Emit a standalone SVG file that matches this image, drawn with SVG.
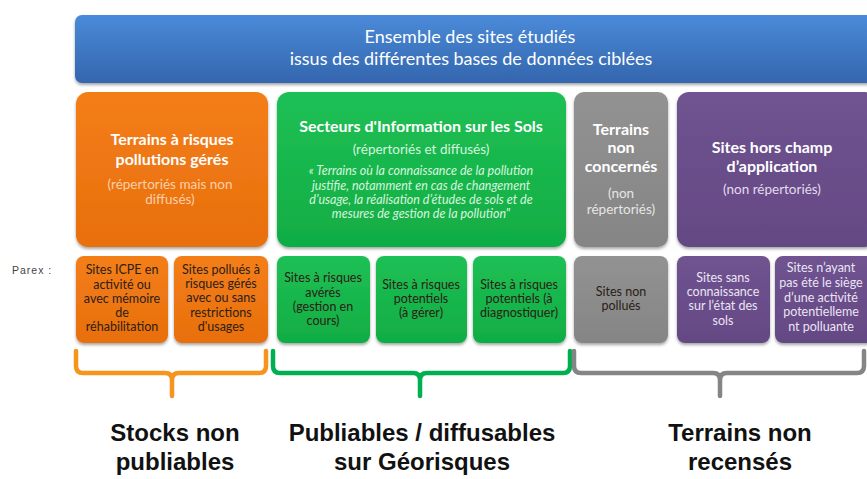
<svg xmlns="http://www.w3.org/2000/svg" width="867" height="479" viewBox="0 0 867 479">
<defs>
<linearGradient id="gBlue" x1="0" y1="0" x2="0" y2="1"><stop offset="0" stop-color="#4a8ad8"/><stop offset="1" stop-color="#3466ae"/></linearGradient>
<linearGradient id="gOr" x1="0" y1="0" x2="0" y2="1"><stop offset="0" stop-color="#f47e16"/><stop offset="1" stop-color="#e86f0e"/></linearGradient>
<linearGradient id="gGr" x1="0" y1="0" x2="0" y2="1"><stop offset="0" stop-color="#1fc055"/><stop offset="1" stop-color="#10ad44"/></linearGradient>
<linearGradient id="gGy" x1="0" y1="0" x2="0" y2="1"><stop offset="0" stop-color="#929292"/><stop offset="1" stop-color="#858585"/></linearGradient>
<linearGradient id="gPu" x1="0" y1="0" x2="0" y2="1"><stop offset="0" stop-color="#6f5390"/><stop offset="1" stop-color="#644984"/></linearGradient>
<filter id="sh" x="-10%" y="-10%" width="120%" height="130%"><feDropShadow dx="0" dy="2" stdDeviation="1.5" flood-color="#000" flood-opacity="0.35"/></filter>
</defs>
<style>
.t{font-family:Lato,"Open Sans","Liberation Sans",sans-serif;text-anchor:middle}
.hd{font-size:16px;font-weight:bold;fill:#fff}
.sub{font-size:13.5px}
.it{font-size:12.5px;font-style:italic;fill:#d6f5de}
.sm{font-size:12.5px;fill:#2b2016}
.smp{font-size:12.5px;fill:#ece4f4}
.big{font-family:"Liberation Sans",Arial,sans-serif;font-size:24px;font-weight:bold;fill:#111;text-anchor:middle}
.br{fill:none;stroke-width:4.5;stroke-linecap:round;stroke-linejoin:round}
</style>
<rect width="867" height="479" fill="#fff"/>
<g id="top">
<rect x="75" y="15" width="800" height="68" rx="7" fill="url(#gBlue)" filter="url(#sh)"/>
<text class="t" x="470" y="43" font-size="18" fill="#fff">Ensemble des sites étudiés</text>
<text class="t" x="471" y="65" font-size="18" fill="#fff">issus des différentes bases de données ciblées</text>
</g>
<g id="orange-main">
<rect x="76" y="92" width="192" height="155" rx="12" fill="url(#gOr)" filter="url(#sh)"/>
<text class="t hd" x="172" y="145">Terrains à risques</text>
<text class="t hd" x="172" y="165">pollutions gérés</text>
<text class="t sub" x="170" y="189" fill="#fbcfae">(répertoriés mais non</text>
<text class="t sub" x="170" y="204" fill="#fbcfae">diffusés)</text>
</g>
<g id="green-main">
<rect x="277" y="92" width="289" height="155" rx="12" fill="url(#gGr)" filter="url(#sh)"/>
<text class="t hd" x="421" y="132">Secteurs d'Information sur les Sols</text>
<text class="t sub" x="421" y="154" fill="#d6f5de">(répertoriés et diffusés)</text>
<text class="t it" x="421" y="175">« Terrains où la connaissance de la pollution</text>
<text class="t it" x="421" y="190">justifie, notamment en cas de changement</text>
<text class="t it" x="421" y="204">d’usage, la réalisation d’études de sols et de</text>
<text class="t it" x="421" y="218">mesures de gestion de la pollution"</text>
</g>
<g id="gray-main">
<rect x="574" y="92" width="94" height="155" rx="10" fill="url(#gGy)" filter="url(#sh)"/>
<text class="t hd" x="621" y="135">Terrains</text>
<text class="t hd" x="621" y="153">non</text>
<text class="t hd" x="621" y="172">concernés</text>
<text class="t sub" x="621" y="198" fill="#e6e6e6">(non</text>
<text class="t sub" x="621" y="214" fill="#e6e6e6">répertoriés)</text>
</g>
<g id="purple-main">
<rect x="677" y="92" width="200" height="155" rx="12" fill="url(#gPu)" filter="url(#sh)"/>
<text class="t hd" x="772" y="153">Sites hors champ</text>
<text class="t hd" x="772" y="172">d’application</text>
<text class="t sub" x="772" y="194" fill="#e4dcee">(non répertoriés)</text>
</g>
<text x="12" y="274" font-family="'Liberation Sans',Arial,sans-serif" font-size="10.5" letter-spacing="1" fill="#444">Parex :</text>
<g id="o1">
<rect x="76" y="256" width="92" height="87" rx="8" fill="url(#gOr)" filter="url(#sh)"/>
<text class="t sm" x="122" y="274">Sites ICPE en</text>
<text class="t sm" x="122" y="289">activité ou</text>
<text class="t sm" x="122" y="303">avec mémoire</text>
<text class="t sm" x="122" y="317">de</text>
<text class="t sm" x="122" y="331">réhabilitation</text>
</g>
<g id="o2">
<rect x="174" y="256" width="94" height="87" rx="8" fill="url(#gOr)" filter="url(#sh)"/>
<text class="t sm" x="221" y="274">Sites pollués à</text>
<text class="t sm" x="221" y="288">risques gérés</text>
<text class="t sm" x="221" y="302">avec ou sans</text>
<text class="t sm" x="221" y="317">restrictions</text>
<text class="t sm" x="221" y="331">d'usages</text>
</g>
<g id="g1">
<rect x="277" y="256" width="93" height="87" rx="8" fill="url(#gGr)" filter="url(#sh)"/>
<text class="t sm" x="323" y="282">Sites à risques</text>
<text class="t sm" x="323" y="297">avérés</text>
<text class="t sm" x="323" y="311">(gestion en</text>
<text class="t sm" x="323" y="325">cours)</text>
</g>
<g id="g2">
<rect x="376" y="256" width="91" height="87" rx="8" fill="url(#gGr)" filter="url(#sh)"/>
<text class="t sm" x="421" y="289">Sites à risques</text>
<text class="t sm" x="421" y="303">potentiels</text>
<text class="t sm" x="421" y="317">(à gérer)</text>
</g>
<g id="g3">
<rect x="473" y="256" width="93" height="87" rx="8" fill="url(#gGr)" filter="url(#sh)"/>
<text class="t sm" x="519" y="289">Sites à risques</text>
<text class="t sm" x="519" y="303">potentiels (à</text>
<text class="t sm" x="519" y="317">diagnostiquer)</text>
</g>
<g id="gy1">
<rect x="574" y="256" width="94" height="87" rx="8" fill="url(#gGy)" filter="url(#sh)"/>
<text class="t sm" x="621" y="296">Sites non</text>
<text class="t sm" x="621" y="310">pollués</text>
</g>
<g id="p1">
<rect x="677" y="256" width="93" height="87" rx="8" fill="url(#gPu)" filter="url(#sh)"/>
<text class="t smp" x="723" y="282">Sites sans</text>
<text class="t smp" x="723" y="296">connaissance</text>
<text class="t smp" x="723" y="310">sur l’état des</text>
<text class="t smp" x="723" y="325">sols</text>
</g>
<g id="p2">
<rect x="775" y="256" width="100" height="87" rx="8" fill="url(#gPu)" filter="url(#sh)"/>
<text class="t smp" x="821" y="272">Sites n’ayant</text>
<text class="t smp" x="821" y="287">pas été le siège</text>
<text class="t smp" x="821" y="302">d’une activité</text>
<text class="t smp" x="821" y="316">potentielleme</text>
<text class="t smp" x="821" y="331">nt polluante</text>
</g>
<g id="connectors">
<path class="br" stroke="#f7941d" d="M76,351 V366 Q76,373 83,373 H165 Q172,373 172,380 Q172,373 179,373 H259 Q266,373 266,366 V351 M172,379 V396"/>
<path class="br" stroke="#00b050" d="M273,351 V366 Q273,373 280,373 H413 Q420,373 420,380 Q420,373 427,373 H563 Q570,373 570,366 V351 M420,379 V396"/>
<path class="br" stroke="#858585" d="M574,351 V366 Q574,373 581,373 H713 Q720,373 720,380 Q720,373 727,373 H857 Q864,373 864,366 V351 M720,379 V396"/>
</g>
<g id="labels">
<text class="big" x="175" y="441">Stocks non</text>
<text class="big" x="175" y="470">publiables</text>
<text class="big" x="422" y="441">Publiables / diffusables</text>
<text class="big" x="422" y="470">sur Géorisques</text>
<text class="big" x="740" y="441">Terrains non</text>
<text class="big" x="740" y="470">recensés</text>
</g>
</svg>
